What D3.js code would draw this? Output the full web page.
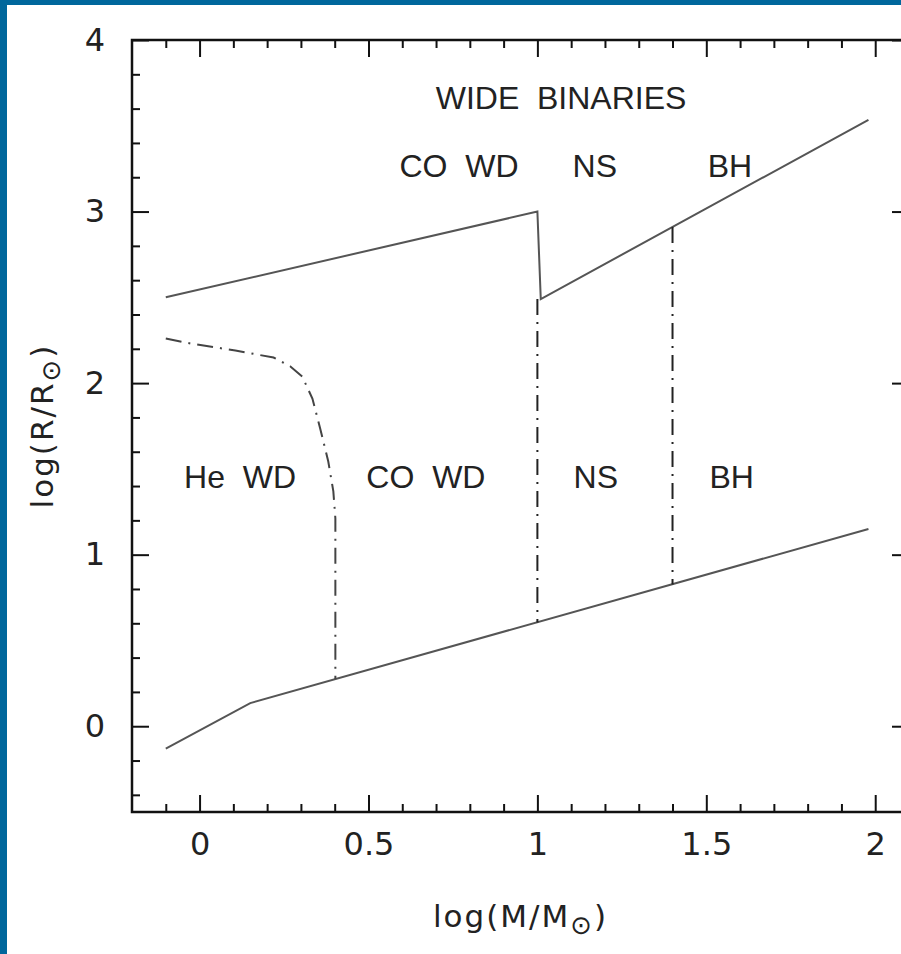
<!DOCTYPE html>
<html><head><meta charset="utf-8">
<script src="https://cdn.jsdelivr.net/npm/d3@7"></script>
<style>
body{margin:0;background:#fff;}
svg{display:block;}
text{fill:#222;}
</style>
</head><body>
<svg id="chart" width="901" height="954"></svg>
<script>
// ---- data ----
const xMajorTicks = [0, 0.5, 1, 1.5, 2];
const xTickLabels = ["0", "0.5", "1", "1.5", "2"];
const xMinorTicks = [-0.1, 0.1, 0.2, 0.3, 0.4, 0.6, 0.7, 0.8, 0.9, 1.1, 1.2, 1.3, 1.4, 1.6, 1.7, 1.8, 1.9];
const yMajorTicks = [0, 1, 2, 3, 4];
const yTickLabels = ["0", "1", "2", "3", "4"];
const yMinorTicks = [-0.4, -0.2, 0.2, 0.4, 0.6, 0.8, 1.2, 1.4, 1.6, 1.8, 2.2, 2.4, 2.6, 2.8, 3.2, 3.4, 3.6, 3.8];

// upper boundary (wide binaries)
const upperX = [-0.1, 1.0, 1.01, 1.98];
const upperY = [2.5, 3.0, 2.49, 3.535];
// lower boundary
const lowerX = [-0.1, 0.15, 1.98];
const lowerY = [-0.13, 0.135, 1.15];
// He WD / CO WD separation (dash-dot curve)
const heCurveX = [-0.1, -0.027, 0.106, 0.219, 0.269, 0.304, 0.334, 0.357, 0.381, 0.396, 0.402, 0.402];
const heCurveY = [2.26, 2.231, 2.19, 2.149, 2.097, 2.038, 1.91, 1.736, 1.543, 1.369, 1.211, 0.275];
// vertical dash-dot separators
const sepX = [1.0, 1.4];
const sepTop = [2.49, 2.91];
const sepBottom = [0.605, 0.826];

// region labels
const topTitle = "WIDE  BINARIES";
const topTitleX = 1.07, topTitleY = 3.60;
const upperLabels = ["CO  WD", "NS", "BH"];
const upperLabelX = [0.768, 1.17, 1.57];
const upperLabelY = 3.20;
const lowerLabels = ["He  WD", "CO  WD", "NS", "BH"];
const lowerLabelX = [0.12, 0.67, 1.173, 1.575];
const lowerLabelY = 1.39;

// ---- layout ----
const W = 901, H = 954;
const svg = d3.select("#chart");
svg.append("rect").attr("width", W).attr("height", H).attr("fill", "#fff");
svg.append("rect").attr("x", 0).attr("y", 0).attr("width", W).attr("height", 5).attr("fill", "#00679c");
svg.append("rect").attr("x", 0).attr("y", 0).attr("width", 7).attr("height", H).attr("fill", "#00679c");

const x = d3.scaleLinear().domain([-0.2, 2.1]).range([132, 909]);
const y = d3.scaleLinear().domain([-0.5, 4]).range([812, 40]);

const tickFont = "'DejaVu Sans', sans-serif";
const textColor = "#2b2b2b";
const majorLen = 17, minorLen = 8;

function styleAxis(g) {
  g.select(".domain").remove();
  g.selectAll(".tick line").attr("stroke", "#111").attr("stroke-width", 2);
}

// bottom axis
const gB = svg.append("g").attr("transform", `translate(0,${y.range()[0]})`);
gB.call(d3.axisBottom(x).tickValues(xMajorTicks).tickSizeInner(-majorLen).tickSizeOuter(0).tickPadding(20)
  .tickFormat((d, i) => xTickLabels[i]));
gB.call(styleAxis);
gB.selectAll("text").attr("font-family", tickFont).attr("font-size", 32).attr("fill", textColor);
svg.append("g").attr("transform", `translate(0,${y.range()[0]})`)
  .call(d3.axisBottom(x).tickValues(xMinorTicks).tickSizeInner(-minorLen).tickSizeOuter(0).tickFormat(""))
  .call(styleAxis);
// top axis
svg.append("g").attr("transform", `translate(0,${y.range()[1]})`)
  .call(d3.axisTop(x).tickValues(xMajorTicks).tickSizeInner(-majorLen).tickSizeOuter(0).tickFormat(""))
  .call(styleAxis);
svg.append("g").attr("transform", `translate(0,${y.range()[1]})`)
  .call(d3.axisTop(x).tickValues(xMinorTicks).tickSizeInner(-minorLen).tickSizeOuter(0).tickFormat(""))
  .call(styleAxis);
// left axis
const gL = svg.append("g").attr("transform", `translate(${x.range()[0]},0)`);
gL.call(d3.axisLeft(y).tickValues(yMajorTicks).tickSizeInner(-majorLen).tickSizeOuter(0).tickPadding(27)
  .tickFormat((d, i) => yTickLabels[i]));
gL.call(styleAxis);
gL.selectAll("text").attr("font-family", tickFont).attr("font-size", 32).attr("fill", textColor);
svg.append("g").attr("transform", `translate(${x.range()[0]},0)`)
  .call(d3.axisLeft(y).tickValues(yMinorTicks).tickSizeInner(-minorLen).tickSizeOuter(0).tickFormat(""))
  .call(styleAxis);
// right axis
svg.append("g").attr("transform", `translate(${x.range()[1]},0)`)
  .call(d3.axisRight(y).tickValues(yMajorTicks).tickSizeInner(-majorLen).tickSizeOuter(0).tickFormat(""))
  .call(styleAxis);
svg.append("g").attr("transform", `translate(${x.range()[1]},0)`)
  .call(d3.axisRight(y).tickValues(yMinorTicks).tickSizeInner(-minorLen).tickSizeOuter(0).tickFormat(""))
  .call(styleAxis);

// frame
svg.append("rect")
  .attr("x", x.range()[0]).attr("y", y.range()[1])
  .attr("width", x.range()[1] - x.range()[0]).attr("height", y.range()[0] - y.range()[1])
  .attr("fill", "none").attr("stroke", "#111").attr("stroke-width", 2.5);

// lines
const line = d3.line().x(d => x(d[0])).y(d => y(d[1]));
const zip = (a, b) => a.map((v, i) => [v, b[i]]);

svg.append("path").attr("d", line(zip(upperX, upperY)))
  .attr("fill", "none").attr("stroke", "#555").attr("stroke-width", 2).attr("stroke-linejoin", "miter");
svg.append("path").attr("d", line(zip(lowerX, lowerY)))
  .attr("fill", "none").attr("stroke", "#555").attr("stroke-width", 2);

const dashDot = "16,7,2,7";
svg.append("path").attr("d", line(zip(heCurveX, heCurveY)))
  .attr("fill", "none").attr("stroke", "#444").attr("stroke-width", 2).attr("stroke-dasharray", dashDot);
sepX.forEach((sx, i) => {
  svg.append("path").attr("d", line([[sx, sepTop[i]], [sx, sepBottom[i]]]))
    .attr("fill", "none").attr("stroke", "#222").attr("stroke-width", 2).attr("stroke-dasharray", dashDot);
});

// labels
const labFont = "'Liberation Sans', Arial, sans-serif";
function addLabel(txt, dx, dy) {
  svg.append("text").attr("x", x(dx)).attr("y", y(dy))
    .attr("text-anchor", "middle").attr("font-family", labFont).attr("font-size", 32)
    .style("white-space", "pre").attr("fill", textColor).text(txt);
}
addLabel(topTitle, topTitleX, topTitleY);
upperLabels.forEach((t, i) => addLabel(t, upperLabelX[i], upperLabelY));
lowerLabels.forEach((t, i) => addLabel(t, lowerLabelX[i], lowerLabelY));

// axis titles
const cx = (x.range()[0] + x.range()[1]) / 2;
const cy = (y.range()[0] + y.range()[1]) / 2;
const xt = svg.append("text").attr("x", cx).attr("y", 927).attr("text-anchor", "middle")
  .attr("font-family", tickFont).attr("font-size", 31).attr("letter-spacing", 2).attr("fill", textColor);
xt.append("tspan").text("log(M/M");
xt.append("tspan").attr("font-size", 26).attr("dy", 7).text("\u2299");
xt.append("tspan").attr("dy", -7).text(")");

const yt = svg.append("text").attr("transform", `translate(53,${cy}) rotate(-90)`).attr("text-anchor", "middle")
  .attr("font-family", tickFont).attr("font-size", 31).attr("letter-spacing", 2).attr("fill", textColor);
yt.append("tspan").text("log(R/R");
yt.append("tspan").attr("font-size", 26).attr("dy", 7).text("\u2299");
yt.append("tspan").attr("dy", -7).text(")");
</script>
</body></html>
